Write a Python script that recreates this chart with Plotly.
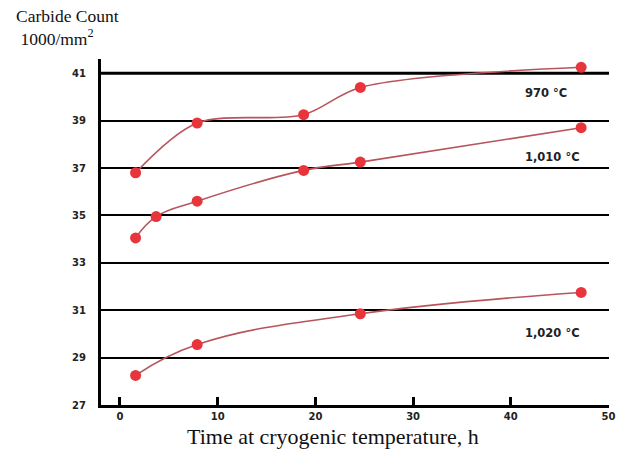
import plotly.graph_objects as go

# Data
t_970 = [1.6, 7.9, 18.8, 24.6, 47.2]
c_970 = [36.8, 38.9, 39.25, 40.4, 41.25]

t_1010 = [1.6, 3.7, 7.9, 18.8, 24.6, 47.2]
c_1010 = [34.05, 34.95, 35.6, 36.9, 37.25, 38.7]

t_1020 = [1.6, 7.9, 24.6, 47.2]
c_1020 = [28.25, 29.55, 30.85, 31.75]

series_labels = ["970 °C", "1,010 °C", "1,020 °C"]
label_x = [43.6, 44.3, 44.3]
label_y = [40.15, 37.45, 30.05]

x_ticks = [0, 10, 20, 30, 40, 50]
y_ticks = [27, 29, 31, 33, 35, 37, 39, 41]

marker_color = "#e8353c"
line_color = "#b8545c"
smooth = [0.9, 1.2, 1.2]

fig = go.Figure()
for (xs, ys), sm in zip([(t_970, c_970), (t_1010, c_1010), (t_1020, c_1020)], smooth):
    fig.add_trace(go.Scatter(
        x=xs, y=ys, mode="lines+markers",
        line=dict(color=line_color, width=1.6, shape="spline", smoothing=sm),
        marker=dict(color=marker_color, size=11),
        showlegend=False, cliponaxis=False,
    ))

for lab, lx, ly in zip(series_labels, label_x, label_y):
    fig.add_annotation(x=lx, y=ly, text=lab, showarrow=False,
                       font=dict(family="DejaVu Sans", size=11.5, color="#222", weight="bold"))

# top frame line at the top tick value
fig.add_shape(type="line", xref="paper", yref="y", x0=0, x1=1, y0=y_ticks[-1], y1=y_ticks[-1],
              line=dict(color="black", width=3), layer="below")

fig.add_annotation(xref="paper", yref="paper", x=-0.172, y=1.16, xanchor="left", yanchor="top",
                   text="Carbide Count<br> 1000/mm<sup>2</sup>", showarrow=False, align="left",
                   font=dict(family="Liberation Serif", size=17.5, color="#111"))

fig.add_annotation(xref="paper", yref="paper", x=0.457, y=-0.09, xanchor="center", yanchor="middle",
                   text="Time at cryogenic temperature, h", showarrow=False,
                   font=dict(family="Liberation Serif", size=22, color="#111"))

fig.update_layout(
    width=628, height=454,
    margin=dict(l=101, r=19, t=59, b=49),
    paper_bgcolor="white", plot_bgcolor="white",
    xaxis=dict(
        range=[-1.94, 50.05], tickvals=x_ticks, ticktext=[str(v) for v in x_ticks],
        showgrid=False, zeroline=False,
        showline=True, linecolor="black", linewidth=3,
        ticks="inside", ticklen=8, tickwidth=3, tickcolor="black",
        tickfont=dict(family="DejaVu Sans", size=10, color="#222", weight="bold"),
    ),
    yaxis=dict(
        range=[27, 41.6], tickvals=y_ticks, ticktext=[str(v) for v in y_ticks],
        showgrid=True, gridcolor="black", gridwidth=2, zeroline=False,
        showline=True, linecolor="black", linewidth=3,
        ticks="", ticklabelstandoff=10,
        tickfont=dict(family="DejaVu Sans", size=10, color="#222", weight="bold"),
    ),
)

fig.write_html("out.html")
